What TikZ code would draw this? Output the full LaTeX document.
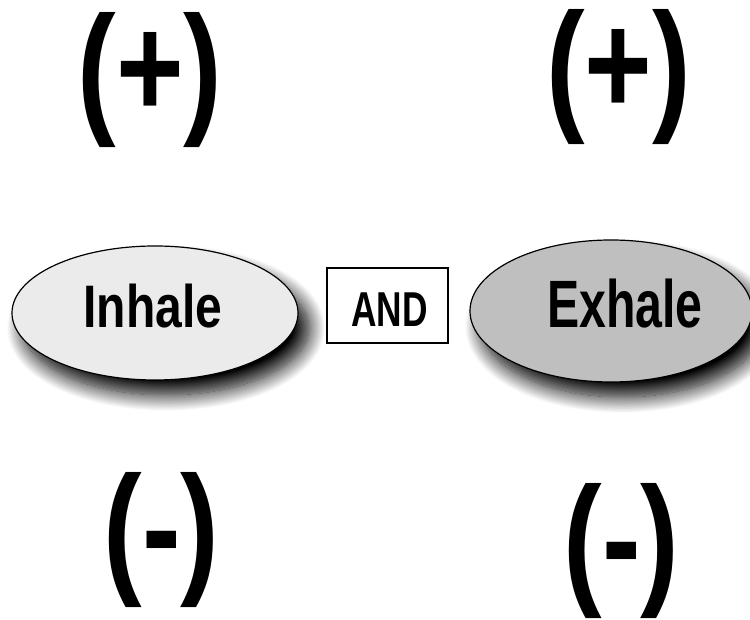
\documentclass[tikz,border=0pt]{standalone}
\usepackage{fontspec}
\newfontfamily\narrowsans[FakeStretch=0.8]{Liberation Sans}
\newfontfamily\tightsans[FakeStretch=0.72]{Liberation Sans}
\usetikzlibrary{shapes.geometric,shadows.blur}

\begin{document}
\begin{tikzpicture}[x=1pt, y=1pt,
  breath/.style={ellipse, draw=black, line width=1.2pt, inner sep=0pt,
    blur shadow={shadow xshift=11pt, shadow yshift=-15pt,
      shadow blur radius=16pt, shadow blur steps=20, shadow opacity=100}},
  word/.style={anchor=base, inner sep=0pt},
  sign/.style={anchor=base, inner sep=0pt,
    font=\narrowsans\bfseries\fontsize{145}{150}\selectfont}]

  % --- キャンバス ---
  \useasboundingbox (0,0) rectangle (750,619);

  % 1. 楕円（吸う・吐く）
  \node[breath, fill=black!8, minimum width=286, minimum height=134]
    (inhale) at (155,306) {};
  \node[breath, fill=black!25, minimum width=282, minimum height=142]
    (exhale) at (611,308) {};

  % 2. 中央の AND ボックス
  \node[draw=black, line width=1.2pt, minimum width=121, minimum height=75,
    inner sep=0pt] (andbox) at (387.5,313.5) {};

  % 3. ラベル
  \node[word, font=\narrowsans\bfseries\fontsize{60}{64}\selectfont]
    (inhaletxt) at (153,291) {Inhale};
  \node[word, font=\tightsans\bfseries\fontsize{67}{70}\selectfont]
    (exhaletxt) at (625,291) {Exhale};
  \node[word, font=\tightsans\bfseries\fontsize{49}{52}\selectfont]
    (andtxt) at (389.5,292) {AND};

  % 4. 符号 (+) と (-)
  \node[sign] (pluslft) at (150,501.5) {(+)};
  \node[sign] (plusrgt) at (618.5,504) {(+)};
  \node[sign] (minuslft) at (161.5,41.5) {(-)};
  \node[sign] (minusrgt) at (621.5,30.5) {(-)};

\end{tikzpicture}
\end{document}
